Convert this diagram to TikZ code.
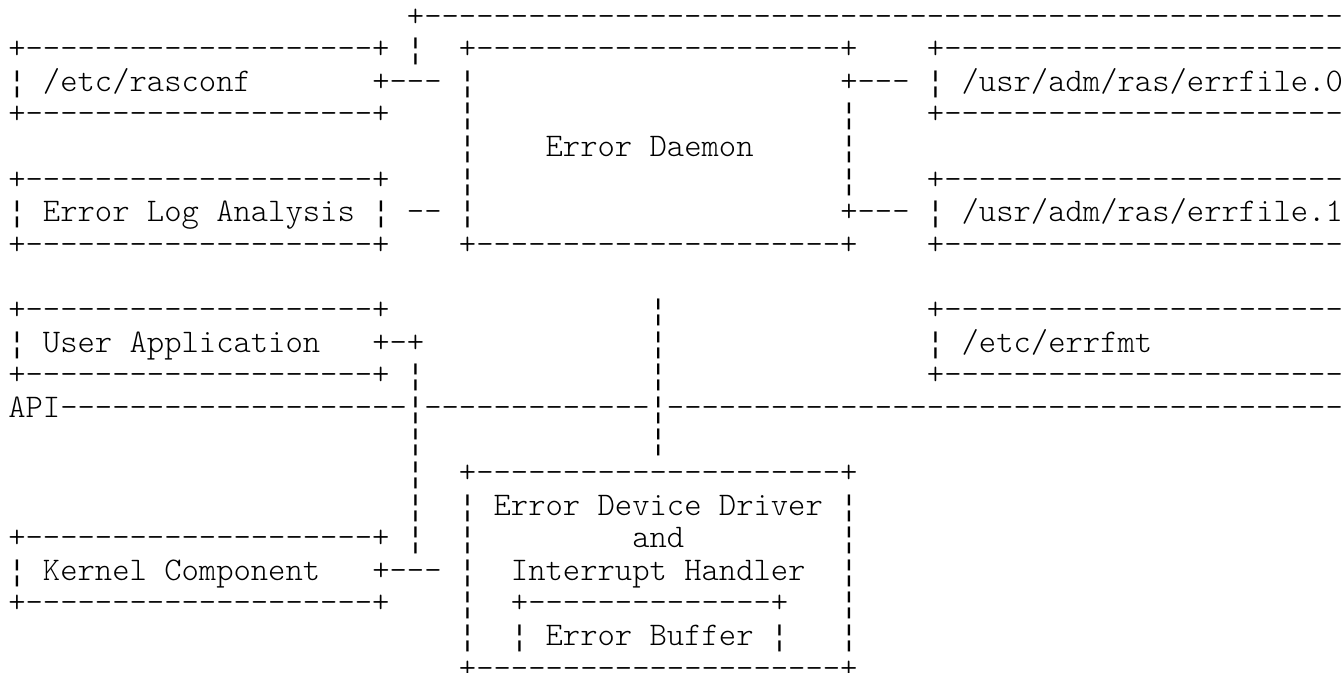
\documentclass[tikz,border=0pt]{standalone}
\usepackage{fontspec}
\newfontfamily\asciifont{Latin Modern Mono Light}
\newfontfamily\barfont{Liberation Mono}
% a run of n hyphens that never turns into an en or em dash
\newcommand\hy[1]{\foreach\k in {1,...,#1}{-\kern0pt}}
% one piece of text starting at a grid column on a text row
\newcommand\seg[4]{\node[cell] (#1) at ({6.2pt+#2*13pt},{-19.5pt-(#3-1)*24.45pt}) {#4};}
% a broken vertical bar centred in a grid cell
\newcommand\vbar[3]{\node[barcell] (#1) at ({6.2pt+(#2+0.5)*13pt},{-19.5pt-(#3-1)*24.45pt}) {¦};}
\tikzset{
  cell/.style={font=\asciifont\fontsize{24.76pt}{24.76pt}\selectfont,
    anchor=base west, inner sep=0pt, outer sep=0pt, text=black},
  barcell/.style={font=\barfont\fontsize{21.7pt}{21.7pt}\selectfont,
    anchor=base, inner sep=0pt, outer sep=0pt, text=black},
}
\begin{document}
\begin{tikzpicture}
\fill[white] (0,0) rectangle (1007.25pt,-504pt);
\useasboundingbox (0,0) rectangle (1007.25pt,-504pt);

% row 1: top bus
\seg{busTop}{23}{1}{+\hy{53}}
% rows 2-4: /etc/rasconf, daemon top, errfile.0
\seg{rasTop}{0}{2}{+\hy{20}+}
\vbar{busV}{23}{2}
\seg{dmnTop}{26}{2}{+\hy{21}+}
\seg{efaTop}{53}{2}{+\hy{23}}
\vbar{rasL}{0}{3}
\seg{rasTxt}{2}{3}{/etc/rasconf}
\seg{rasLink}{21}{3}{+\hy{3}}
\vbar{dmnLc}{26}{3}
\seg{efaLink}{48}{3}{+\hy{3}}
\vbar{efaL}{53}{3}
\seg{efaTxt}{55}{3}{/usr/adm/ras/errfile.0}
\seg{rasBot}{0}{4}{+\hy{20}+}
\vbar{dmnLd}{26}{4}
\vbar{dmnRd}{48}{4}
\seg{efaBot}{53}{4}{+\hy{23}}
% row 5: daemon label
\vbar{dmnLe}{26}{5}
\seg{dmnTxt}{31}{5}{Error Daemon}
\vbar{dmnRe}{48}{5}
% rows 6-8: error log analysis, errfile.1
\seg{elaTop}{0}{6}{+\hy{20}+}
\vbar{dmnLf}{26}{6}
\vbar{dmnRf}{48}{6}
\seg{efbTop}{53}{6}{+\hy{23}}
\vbar{elaL}{0}{7}
\seg{elaTxt}{2}{7}{Error Log Analysis}
\vbar{elaR}{21}{7}
\seg{elaLink}{23}{7}{\hy{2}}
\vbar{dmnLg}{26}{7}
\seg{efbLink}{48}{7}{+\hy{3}}
\vbar{efbL}{53}{7}
\seg{efbTxt}{55}{7}{/usr/adm/ras/errfile.1}
\seg{elaBot}{0}{8}{+\hy{20}+}
\seg{dmnBot}{26}{8}{+\hy{21}+}
\seg{efbBot}{53}{8}{+\hy{23}}
% rows 10-12: user application, /etc/errfmt
\seg{uaTop}{0}{10}{+\hy{20}+}
\vbar{dmnVa}{37}{10}
\seg{fmtTop}{53}{10}{+\hy{23}}
\vbar{uaL}{0}{11}
\seg{uaTxt}{2}{11}{User Application}
\seg{uaLink}{21}{11}{+-\kern0pt+}
\vbar{dmnVb}{37}{11}
\vbar{fmtL}{53}{11}
\seg{fmtTxt}{55}{11}{/etc/errfmt}
\seg{uaBot}{0}{12}{+\hy{20}+}
\vbar{uaVa}{23}{12}
\vbar{dmnVc}{37}{12}
\seg{fmtBot}{53}{12}{+\hy{23}}
% row 13: API boundary
\seg{api}{0}{13}{API\hy{20}}
\vbar{uaVb}{23}{13}
\seg{apiMid}{24}{13}{\hy{13}}
\vbar{dmnVd}{37}{13}
\seg{apiRight}{38}{13}{\hy{39}}
\vbar{uaVc}{23}{14}
\vbar{dmnVe}{37}{14}
% rows 15-21: device driver, kernel component, error buffer
\vbar{uaVd}{23}{15}
\seg{drvTop}{26}{15}{+\hy{21}+}
\vbar{uaVe}{23}{16}
\vbar{drvLp}{26}{16}
\seg{drvTxtA}{28}{16}{Error Device Driver}
\vbar{drvRp}{48}{16}
\seg{kcTop}{0}{17}{+\hy{20}+}
\vbar{uaVf}{23}{17}
\vbar{drvLq}{26}{17}
\seg{drvTxtB}{36}{17}{and}
\vbar{drvRq}{48}{17}
\vbar{kcL}{0}{18}
\seg{kcTxt}{2}{18}{Kernel Component}
\seg{kcLink}{21}{18}{+\hy{3}}
\vbar{drvLr}{26}{18}
\seg{drvTxtC}{29}{18}{Interrupt Handler}
\vbar{drvRr}{48}{18}
\seg{kcBot}{0}{19}{+\hy{20}+}
\vbar{drvLs}{26}{19}
\seg{bufTop}{29}{19}{+\hy{14}+}
\vbar{drvRs}{48}{19}
\vbar{drvLt}{26}{20}
\vbar{bufL}{29}{20}
\seg{bufTxt}{31}{20}{Error Buffer}
\vbar{bufR}{44}{20}
\vbar{drvRt}{48}{20}
\seg{drvBot}{26}{21}{+\hy{21}+}
\end{tikzpicture}
\end{document}
